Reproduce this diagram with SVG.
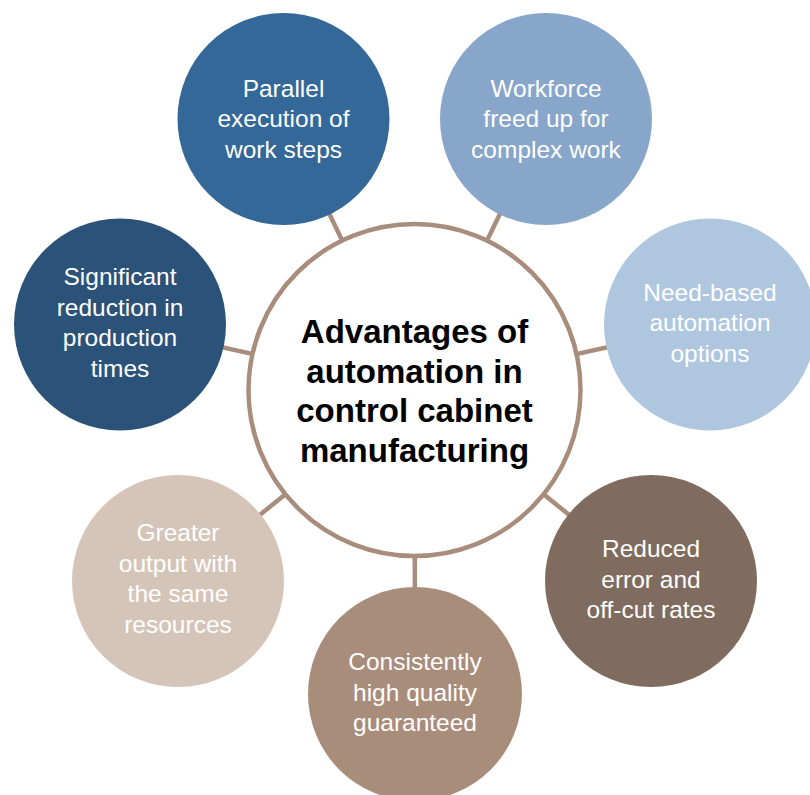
<svg xmlns="http://www.w3.org/2000/svg" width="810" height="795" viewBox="0 0 810 795">
<style>
.lbl{font-family:"Liberation Sans",Arial,Helvetica,sans-serif;font-size:24.5px;fill:#ffffff;text-anchor:middle}
.ttl{font-family:"Liberation Sans",Arial,Helvetica,sans-serif;font-size:33px;font-weight:bold;fill:#000000;text-anchor:middle}
.conn{stroke:#a88d7c;stroke-width:4.5;fill:none}
</style>
<rect width="810" height="795" fill="#ffffff"/>
<g id="connectors">
<line class="conn" x1="414.5" y1="390" x2="283.5" y2="119"/>
<line class="conn" x1="414.5" y1="390" x2="546" y2="119"/>
<line class="conn" x1="414.5" y1="390" x2="120" y2="324.5"/>
<line class="conn" x1="414.5" y1="390" x2="710" y2="324.5"/>
<line class="conn" x1="414.5" y1="390" x2="178" y2="581"/>
<line class="conn" x1="414.5" y1="390" x2="651" y2="581"/>
<line class="conn" x1="414.5" y1="390" x2="415" y2="694"/>
</g>
<g id="center">
<circle cx="414.5" cy="390" r="166" fill="#ffffff" stroke="#a88d7c" stroke-width="4.5"/>
<text class="ttl" x="414.5" y="342.5">Advantages of</text>
<text class="ttl" x="414.5" y="382.5">automation in</text>
<text class="ttl" x="414.5" y="422">control cabinet</text>
<text class="ttl" x="414.5" y="461.5">manufacturing</text>
</g>
<g id="parallel">
<circle cx="283.5" cy="119" r="106" fill="#346898"/>
<text class="lbl" x="283.5" y="96.5">Parallel</text>
<text class="lbl" x="283.5" y="127">execution of</text>
<text class="lbl" x="283.5" y="157.5">work steps</text>
</g>
<g id="workforce">
<circle cx="546" cy="119" r="106" fill="#88a6ca"/>
<text class="lbl" x="546" y="96.5">Workforce</text>
<text class="lbl" x="546" y="127">freed up for</text>
<text class="lbl" x="546" y="157.5">complex work</text>
</g>
<g id="significant">
<circle cx="120" cy="324.5" r="106" fill="#2b5379"/>
<text class="lbl" x="120" y="285">Significant</text>
<text class="lbl" x="120" y="315.7">reduction in</text>
<text class="lbl" x="120" y="346.4">production</text>
<text class="lbl" x="120" y="377.1">times</text>
</g>
<g id="needbased">
<circle cx="710" cy="324.5" r="106" fill="#afc6df"/>
<text class="lbl" x="710" y="300.5">Need-based</text>
<text class="lbl" x="710" y="331">automation</text>
<text class="lbl" x="710" y="361.5">options</text>
</g>
<g id="greater">
<circle cx="178" cy="581" r="106" fill="#d5c5b9"/>
<text class="lbl" x="178" y="541">Greater</text>
<text class="lbl" x="178" y="571.7">output with</text>
<text class="lbl" x="178" y="602.4">the same</text>
<text class="lbl" x="178" y="633.1">resources</text>
</g>
<g id="reduced">
<circle cx="651" cy="581" r="106" fill="#806c5e"/>
<text class="lbl" x="651" y="557">Reduced</text>
<text class="lbl" x="651" y="587.5">error and</text>
<text class="lbl" x="651" y="618">off-cut rates</text>
</g>
<g id="consistently">
<circle cx="415" cy="694" r="107" fill="#a98d7b"/>
<text class="lbl" x="415" y="670">Consistently</text>
<text class="lbl" x="415" y="700.5">high quality</text>
<text class="lbl" x="415" y="731">guaranteed</text>
</g>
</svg>
